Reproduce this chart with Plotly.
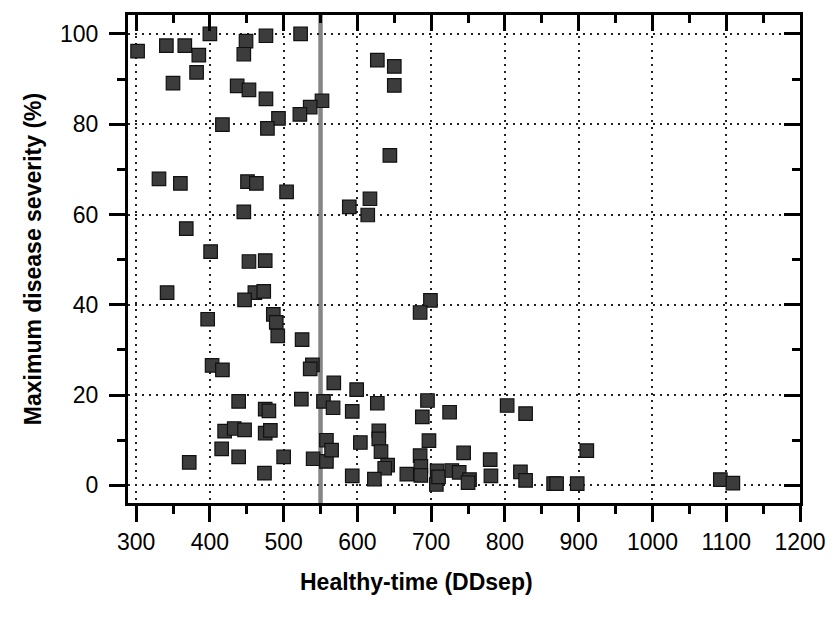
import plotly.graph_objects as go

healthy_time = [302, 341, 366, 385, 400, 382, 350, 449, 446, 476, 523, 437, 453, 476, 552, 536, 522, 493, 478, 417,
                331, 360, 451, 463, 627, 650, 650, 644,
                504, 446, 589, 368, 401, 453, 475, 342, 461, 473, 447, 397, 486, 490, 492, 525,
                617, 614, 699, 685,
                403, 417, 539, 536, 568, 439, 524, 554, 567, 475, 480, 420, 433, 447, 475, 482, 416, 439, 372, 474,
                500, 540, 558, 558, 565, 593, 593,
                599, 627, 695, 688, 725, 803, 828, 604, 629, 629, 632, 641, 637, 623, 685, 697, 667, 686, 686,
                708, 707, 710, 728, 738, 752, 750, 744, 780, 781, 821, 828, 866, 870, 898, 911, 1092, 1109]
max_severity = [96.2, 97.4, 97.4, 95.3, 100, 91.5, 89.1, 98.4, 95.5, 99.6, 100, 88.5, 87.6, 85.6, 85.2, 83.8, 82.2, 81.3, 79.1, 79.9,
                67.9, 66.9, 67.3, 66.9, 94.2, 92.8, 88.6, 73.1,
                65.0, 60.6, 61.7, 56.9, 51.8, 49.6, 49.8, 42.7, 42.7, 43.0, 41.1, 36.8, 37.9, 36.1, 33.1, 32.3,
                63.5, 59.9, 41.0, 38.3,
                26.6, 25.6, 26.7, 25.8, 22.7, 18.6, 19.1, 18.6, 17.2, 16.9, 16.5, 12.0, 12.6, 12.3, 11.6, 12.2, 8.1, 6.3, 5.1, 2.7,
                6.3, 5.9, 5.3, 10.0, 7.8, 16.4, 2.1,
                21.2, 18.2, 18.8, 15.2, 16.2, 17.7, 15.9, 9.5, 12.1, 10.3, 7.5, 4.5, 3.8, 1.4, 6.6, 9.9, 2.5, 4.2, 2.2,
                3.2, 0.2, 1.9, 3.3, 2.9, 1.3, 0.6, 7.2, 5.7, 2.1, 3.0, 1.1, 0.4, 0.4, 0.4, 7.7, 1.3, 0.5]
threshold_x = [550]

x_ticks = [300, 400, 500, 600, 700, 800, 900, 1000, 1100, 1200]
y_ticks = [0, 20, 40, 60, 80, 100]
x_range = [289, 1200]
y_range = [-3.9, 104.2]

font_family = "Liberation Sans, Arial, sans-serif"

fig = go.Figure()
fig.add_trace(go.Scatter(
    x=healthy_time, y=max_severity, mode="markers",
    marker=dict(symbol="square", size=13.5, color="#3c3c3c",
                line=dict(color="#111111", width=1.2)),
    showlegend=False, hoverinfo="x+y"))
# invisible trace to anchor the mirrored axes
fig.add_trace(go.Scatter(x=[None], y=[None], xaxis="x2", yaxis="y2",
                         mode="markers", showlegend=False, hoverinfo="skip"))

for tx in threshold_x:
    fig.add_shape(type="line", x0=tx, x1=tx, xref="x", y0=0, y1=1, yref="paper",
                  line=dict(color="#868686", width=4.5), layer="between")

common_axis = dict(showline=True, linecolor="black", linewidth=3,
                   ticklen=16, tickwidth=3, tickcolor="black",
                   zeroline=False)
grid = dict(showgrid=True, gridcolor="#222222", griddash="1.5px,5.5px", gridwidth=1.5)

plot_left, plot_right, plot_top, plot_bottom = 128, 808, 15, 503
W, H = 838, 617

# x-axis title, placed like the original (slightly left of the plot centre)
fig.add_annotation(text="<b>Healthy-time (DDsep)</b>", xref="paper", yref="paper",
                   x=(420 - plot_left) / (plot_right - plot_left),
                   y=-(567 - plot_bottom) / (plot_bottom - plot_top),
                   xanchor="center", yanchor="top", showarrow=False,
                   font=dict(family=font_family, size=23, color="black"))

fig.update_layout(
    width=W, height=H,
    margin=dict(l=plot_left, r=W - plot_right, t=plot_top, b=H - plot_bottom),
    paper_bgcolor="white", plot_bgcolor="white",
    font=dict(family=font_family, color="black", size=23),
    xaxis=dict(range=x_range, tickvals=x_ticks, ticks="outside",
               tickfont=dict(size=23), ticklabelstandoff=0,
               minor=dict(dtick=50, ticklen=8, tickwidth=2.5, tickcolor="black",
                          ticks="outside", showgrid=False),
               **grid, **common_axis),
    yaxis=dict(range=y_range, tickvals=y_ticks, ticks="outside",
               tickfont=dict(size=23), ticklabelstandoff=6,
               title=dict(text="<b>Maximum disease severity (%)</b>", font=dict(size=23), standoff=12),
               minor=dict(dtick=10, ticklen=8, tickwidth=2.5, tickcolor="black",
                          ticks="outside", showgrid=False),
               **grid, **common_axis),
    xaxis2=dict(range=x_range, tickvals=x_ticks, ticks="inside", side="top",
                overlaying="x", showticklabels=False, showgrid=False,
                minor=dict(dtick=50, ticklen=8, tickwidth=2.5, tickcolor="black",
                           ticks="inside", showgrid=False),
                **common_axis),
    yaxis2=dict(range=y_range, tickvals=y_ticks, ticks="inside", side="right",
                overlaying="y", showticklabels=False, showgrid=False,
                minor=dict(dtick=10, ticklen=8, tickwidth=2.5, tickcolor="black",
                           ticks="inside", showgrid=False),
                **common_axis),
)

fig.write_html("out.html")
